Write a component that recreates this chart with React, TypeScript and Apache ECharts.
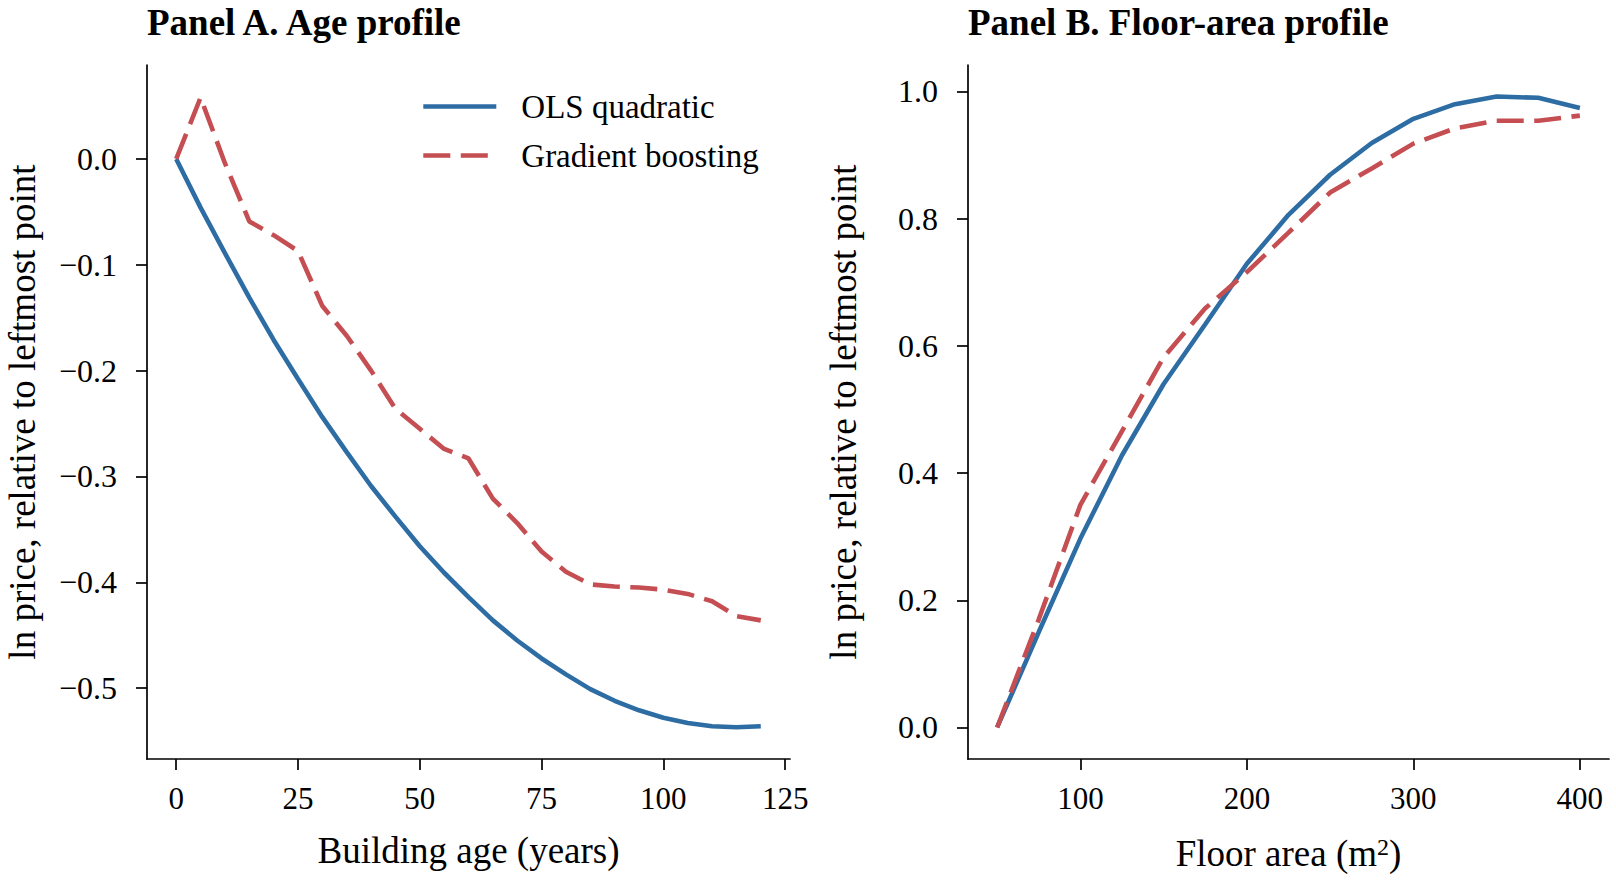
import React, { useEffect, useRef } from "react";
import * as echarts from "echarts";

// Panel A: building age profile
const ageYears = [0, 5, 10, 15, 20, 25, 30, 35, 40, 45, 50, 55, 60, 65, 70, 75, 80, 85, 90, 95, 100, 105, 110, 115, 120];
const ageOls = [0, -0.046, -0.089, -0.131, -0.171, -0.208, -0.244, -0.277, -0.309, -0.338, -0.366, -0.391, -0.414, -0.436, -0.455, -0.472, -0.487, -0.501, -0.512, -0.521, -0.528, -0.533, -0.536, -0.537, -0.536];
const ageGb = [0, 0.058, -0.004, -0.059, -0.072, -0.087, -0.139, -0.167, -0.2, -0.236, -0.255, -0.274, -0.283, -0.321, -0.344, -0.371, -0.39, -0.402, -0.404, -0.405, -0.407, -0.411, -0.418, -0.432, -0.436];

// Panel B: floor-area profile
const floorArea = [50, 75, 100, 125, 150, 175, 200, 225, 250, 275, 300, 325, 350, 375, 400];
const floorOls = [0, 0.15, 0.297, 0.428, 0.54, 0.634, 0.729, 0.806, 0.869, 0.919, 0.957, 0.98, 0.992, 0.99, 0.974];
const floorGb = [0, 0.17, 0.35, 0.466, 0.582, 0.659, 0.716, 0.778, 0.841, 0.879, 0.918, 0.942, 0.954, 0.954, 0.962];

// Tick labels
const ageXTicks = [0, 25, 50, 75, 100, 125];
const ageYTicks = [-0.5, -0.4, -0.3, -0.2, -0.1, 0.0];
const floorXTicks = [100, 200, 300, 400];
const floorYTicks = [0.0, 0.2, 0.4, 0.6, 0.8, 1.0];

const seriesNames = ["OLS quadratic", "Gradient boosting"];
const titles = ["Panel A. Age profile", "Panel B. Floor-area profile"];
const xNames = ["Building age (years)", "Floor area (m{sup|2})"];
const yName = "ln price, relative to leftmost point";

const BLUE = "#2e6da4";
const RED = "#c44e52";
const FONT = "'Liberation Serif', 'Times New Roman', serif";

const fmt = (v: number) => (v < -1e-9 ? "\u2212" : "") + Math.abs(v).toFixed(1);

function makeXAxis(gridIndex: number, min: number, max: number, ticks: number[], name: string, gap: number) {
  return {
    type: "value",
    gridIndex,
    min,
    max,
    name,
    nameLocation: "middle",
    nameGap: gap,
    nameTextStyle: {
      fontFamily: FONT,
      fontSize: 37,
      color: "#000",
      rich: { sup: { fontFamily: FONT, fontSize: 24, color: "#000", verticalAlign: "top", lineHeight: 24 } },
    },
    axisLine: { show: true, onZero: false, lineStyle: { color: "#000", width: 1.7 } },
    axisTick: { show: true, inside: false, length: 11, customValues: ticks, lineStyle: { color: "#000", width: 1.7 } },
    axisLabel: { show: true, margin: 24, customValues: ticks, fontFamily: FONT, fontSize: 31, color: "#000", formatter: (v: number) => String(Math.round(v)) },
    splitLine: { show: false },
  };
}

function makeYAxis(gridIndex: number, min: number, max: number, ticks: number[]) {
  return {
    type: "value",
    gridIndex,
    min,
    max,
    name: yName,
    nameLocation: "middle",
    nameRotate: 90,
    nameGap: 106,
    nameTextStyle: { fontFamily: FONT, fontSize: 37, color: "#000" },
    axisLine: { show: true, onZero: false, lineStyle: { color: "#000", width: 1.7 } },
    axisTick: { show: true, inside: false, length: 11, customValues: ticks, lineStyle: { color: "#000", width: 1.7 } },
    axisLabel: { show: true, margin: 30, customValues: ticks, fontFamily: FONT, fontSize: 32, color: "#000", formatter: fmt },
    splitLine: { show: false },
  };
}

function lineSeries(name: string, xs: number[], ys: number[], idx: number, dashed: boolean) {
  return {
    name,
    type: "line",
    xAxisIndex: idx,
    yAxisIndex: idx,
    data: xs.map((x, i) => [x, ys[i]]),
    symbol: "none",
    smooth: false,
    lineStyle: { color: dashed ? RED : BLUE, width: 4.6, type: dashed ? [27, 10.5] : "solid", cap: "butt" },
    itemStyle: { color: dashed ? RED : BLUE },
    z: dashed ? 3 : 2,
  };
}

export default function App() {
  const ref = useRef<HTMLDivElement>(null);
  useEffect(() => {
    document.body.style.margin = "0";
    if (!ref.current) return;
    const chart = echarts.init(ref.current, undefined, { renderer: "svg" });
    chart.setOption({
      animation: false,
      backgroundColor: "#fff",
      title: [
        { text: titles[0], left: 147, top: 4, padding: 0, textStyle: { fontFamily: FONT, fontSize: 37, fontWeight: "bold", color: "#000" } },
        { text: titles[1], left: 968, top: 4, padding: 0, textStyle: { fontFamily: FONT, fontSize: 37, fontWeight: "bold", color: "#000" } },
      ],
      legend: {
        data: seriesNames,
        orient: "vertical",
        left: 421,
        top: 90,
        itemWidth: 73,
        itemHeight: 16,
        itemGap: 16,
        padding: 0,
        itemStyle: { opacity: 0, borderWidth: 0 },
        lineStyle: { width: 4.6 },
        textStyle: { fontFamily: FONT, fontSize: 33, color: "#000", padding: [0, 0, 0, 20] },
      },
      grid: [
        { left: 147, top: 65, width: 643, height: 694 },
        { left: 968, top: 65, width: 641, height: 694 },
      ],
      xAxis: [
        makeXAxis(0, -6, 126, ageXTicks, xNames[0], 73),
        makeXAxis(1, 32.5, 417.5, floorXTicks, xNames[1], 76),
      ],
      yAxis: [
        makeYAxis(0, -0.567, 0.0888, ageYTicks),
        makeYAxis(1, -0.0496, 1.0416, floorYTicks),
      ],
      series: [
        lineSeries(seriesNames[0], ageYears, ageOls, 0, false),
        lineSeries(seriesNames[1], ageYears, ageGb, 0, true),
        lineSeries(seriesNames[0], floorArea, floorOls, 1, false),
        lineSeries(seriesNames[1], floorArea, floorGb, 1, true),
      ],
    });
    return () => chart.dispose();
  }, []);
  return <div ref={ref} style={{ width: 1616, height: 882 }} />;
}
